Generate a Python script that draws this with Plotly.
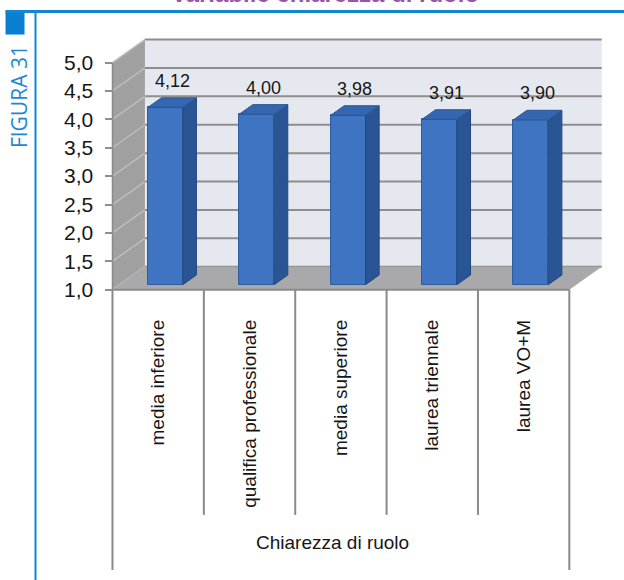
import plotly.graph_objects as go

# ---------------- data ----------------
categories = ["media inferiore", "qualifica professionale", "media superiore",
              "laurea triennale", "laurea VO+M"]
values = [4.12, 4.00, 3.98, 3.91, 3.90]
y_ticks = [1.0, 1.5, 2.0, 2.5, 3.0, 3.5, 4.0, 4.5, 5.0]
axis_title = "Chiarezza di ruolo"
chart_title = "Variabile chiarezza di ruolo"
figure_label = "FIGURA 31"

# ---------------- geometry ----------------
W, H = 624, 580
X0, X1 = -0.56, 5.0
Y0, Y1 = 0.96, 5.45
PXX, PXY = 91.4, 56.75           # px per data unit
FRONT_LEFT_PX, FRONT_BOTTOM_PX = 112, 290
ML = FRONT_LEFT_PX + (X0 + 0.5) * PXX
plot_w = (X1 - X0) * PXX
MR = W - ML - plot_w
MB = H - (FRONT_BOTTOM_PX + (1.0 - Y0) * PXY)
plot_h = (Y1 - Y0) * PXY
MT = H - MB - plot_h

def px(xp):
    return (xp - ML) / plot_w

def py(yp):
    return (H - MB - yp) / plot_h

n = len(categories)
YMIN, YMAX = y_ticks[0], y_ticks[-1]
XL, XR = -0.5, n - 0.5
DX, DY = 0.355, 0.405            # depth offset of the walls
F0, FB = 0.22, 0.42              # bar front depth fraction, bar depth fraction
BW = 0.383                       # bar width

FONT = "Liberation Sans, Arial, sans-serif"
TXT = "#161616"
GRID = "#8e8e8e"

shapes = []

def poly(pts, fill, line_color=None, lw=0, layer="below"):
    path = "M " + " L ".join(f"{x},{y}" for x, y in pts) + " Z"
    shapes.append(dict(type="path", path=path, xref="x", yref="y",
                       fillcolor=fill, layer=layer,
                       line=dict(color=line_color or fill, width=lw)))

def seg(x0, y0, x1, y1, color, width, xref="x", yref="y", layer="below"):
    shapes.append(dict(type="line", x0=x0, y0=y0, x1=x1, y1=y1, xref=xref,
                       yref=yref, layer=layer, line=dict(color=color, width=width)))

# back wall
poly([(XL + DX, YMIN + DY), (XL + DX, YMAX + DY), (XR + DX, YMAX + DY), (XR + DX, YMIN + DY)],
     "#e5e8ee")
# left wall
poly([(XL, YMIN), (XL, YMAX), (XL + DX, YMAX + DY), (XL + DX, YMIN + DY)], "#a0a0a0")
# grid lines
for v in y_ticks:
    seg(XL, v, XL + DX, v + DY, "#bcbcbc", 1.5)
    seg(XL + DX, v + DY, XR + DX, v + DY, GRID, 2)
# floor
poly([(XL, YMIN), (XL + DX, YMIN + DY), (XR + DX, YMIN + DY), (XR, YMIN)], "#a9a9ab")
seg(XL, YMIN, XR, YMIN, "#8a8a8a", 2)
seg(XL, YMIN, XL, YMAX, "#8a8a8a", 1.5)

# category dividers below the floor
y_floor_paper = (YMIN - Y0) / (Y1 - Y0)
for k in range(n + 1):
    xk = XL + k
    bottom = py(570) if k in (0, n) else py(515)
    seg(xk, y_floor_paper, xk, bottom, "#8a8a8a", 2, xref="x", yref="paper")

# page decorations
shapes.append(dict(type="rect", xref="paper", yref="paper", x0=px(5), x1=px(24),
                   y0=py(12), y1=py(35), fillcolor="#0a7fcf", line=dict(width=0),
                   layer="above"))
seg(px(5), py(12), px(624), py(12), "#1286d0", 3, xref="paper", yref="paper", layer="above")
seg(px(35), py(12), px(35), py(580), "#1286d0", 2, xref="paper", yref="paper", layer="above")

# ---------------- bars ----------------
bx = [i + F0 * DX for i in range(n)]
base = YMIN + F0 * DY
fig = go.Figure()
fig.add_trace(go.Bar(
    x=bx, y=[v - YMIN for v in values], base=base, width=BW,
    marker=dict(color="#3f74c3", line=dict(color="#2f5c9f", width=1)),
    hoverinfo="skip", showlegend=False))

side_x, side_y, top_x, top_y = [], [], [], []
bdx, bdy = FB * DX, FB * DY
for xc, v in zip(bx, values):
    xl, xr = xc - BW / 2, xc + BW / 2
    yt = v + F0 * DY
    side_x += [xr, xr + bdx, xr + bdx, xr, xr, None]
    side_y += [base, base + bdy, yt + bdy, yt, base, None]
    top_x += [xl, xl + bdx, xr + bdx, xr, xl, None]
    top_y += [yt, yt + bdy, yt + bdy, yt, yt, None]

fig.add_trace(go.Scatter(x=side_x, y=side_y, mode="lines", fill="toself",
                         fillcolor="#2a5594", line=dict(color="#24497f", width=1),
                         hoverinfo="skip", showlegend=False))
fig.add_trace(go.Scatter(x=top_x, y=top_y, mode="lines", fill="toself",
                         fillcolor="#3566b0", line=dict(color="#2a5594", width=1),
                         hoverinfo="skip", showlegend=False))

annotations = []
for xc, v in zip(bx, values):
    annotations.append(dict(
        x=xc + bdx / 2, y=v + F0 * DY + bdy, xref="x", yref="y",
        text=f"{v:.2f}".replace(".", ","), showarrow=False,
        yanchor="bottom", yshift=5,
        font=dict(family=FONT, size=18, color=TXT)))

annotations.append(dict(x=(n - 1) / 2, xshift=-8, y=py(543), xref="x", yref="paper",
                        text=axis_title, showarrow=False, yanchor="middle",
                        font=dict(family=FONT, size=19, color=TXT)))
annotations.append(dict(x=px(325), y=py(9), xref="paper", yref="paper",
                        text=f"<b>{chart_title}</b>", showarrow=False, yanchor="bottom",
                        font=dict(family=FONT, size=24, color="#9b55a8")))
annotations.append(dict(x=px(18), y=py(97), xref="paper", yref="paper",
                        text=figure_label, showarrow=False, textangle=-90,
                        xanchor="center", yanchor="middle",
                        font=dict(family="Open Sans, sans-serif", size=21, color="#1f88d2")))

fig.update_layout(
    width=W, height=H, autosize=False,
    margin=dict(l=ML, r=MR, t=MT, b=MB, pad=0),
    paper_bgcolor="white", plot_bgcolor="white",
    separators=",.",
    shapes=shapes, annotations=annotations,
    bargap=0,
    xaxis=dict(range=[X0, X1], tickvals=list(range(n)), ticktext=categories,
               tickangle=-90, ticks="", ticklabelstandoff=23,
               showgrid=False, zeroline=False, showline=False, fixedrange=True,
               tickfont=dict(family=FONT, size=19, color=TXT)),
    yaxis=dict(range=[Y0, Y1], tickvals=y_ticks, tickformat=".1f",
               ticks="outside", ticklen=7, tickwidth=2, tickcolor="#8e8e8e",
               ticklabelstandoff=8,
               anchor="free", position=(XL - X0) / (X1 - X0),
               showgrid=False, zeroline=False, showline=False, fixedrange=True,
               tickfont=dict(family=FONT, size=21, color=TXT)),
)

fig.write_html("out.html")
